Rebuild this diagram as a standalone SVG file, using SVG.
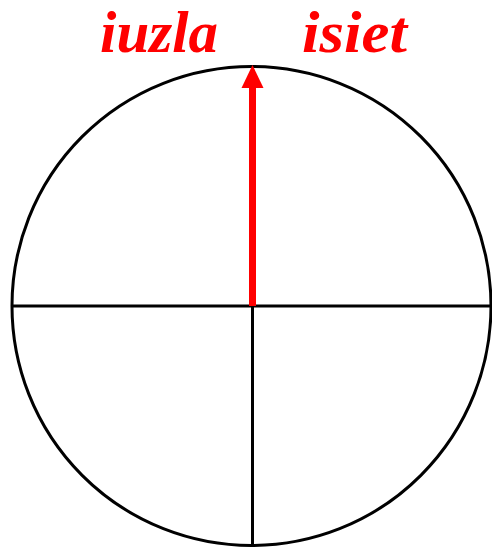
<svg xmlns="http://www.w3.org/2000/svg" width="492" height="550" viewBox="0 0 492 550">
<style>
.ln{stroke:#000;stroke-width:3;fill:none}
.lbl{font-family:"Liberation Serif","DejaVu Serif",serif;font-weight:bold;font-style:italic;font-size:60px;fill:#ff0000}
</style>
<rect width="492" height="550" fill="#fff"/>
<g id="circle"><circle class="ln" cx="251.5" cy="306" r="239.5"/></g>
<g id="connectors">
<line class="ln" x1="12" y1="306" x2="491" y2="306"/>
<line class="ln" x1="252.5" y1="306" x2="252.5" y2="546"/>
<line x1="252.5" y1="306" x2="252.5" y2="86" stroke="#ff0000" stroke-width="7"/>
<polygon points="252.5,65 241.5,88 263.5,88" fill="#ff0000"/>
</g>
<g id="label-left"><text class="lbl" x="100" y="52" textLength="118" lengthAdjust="spacingAndGlyphs">iuzla</text></g>
<g id="label-right"><text class="lbl" x="302" y="52" textLength="105" lengthAdjust="spacingAndGlyphs">isiet</text></g>
</svg>
